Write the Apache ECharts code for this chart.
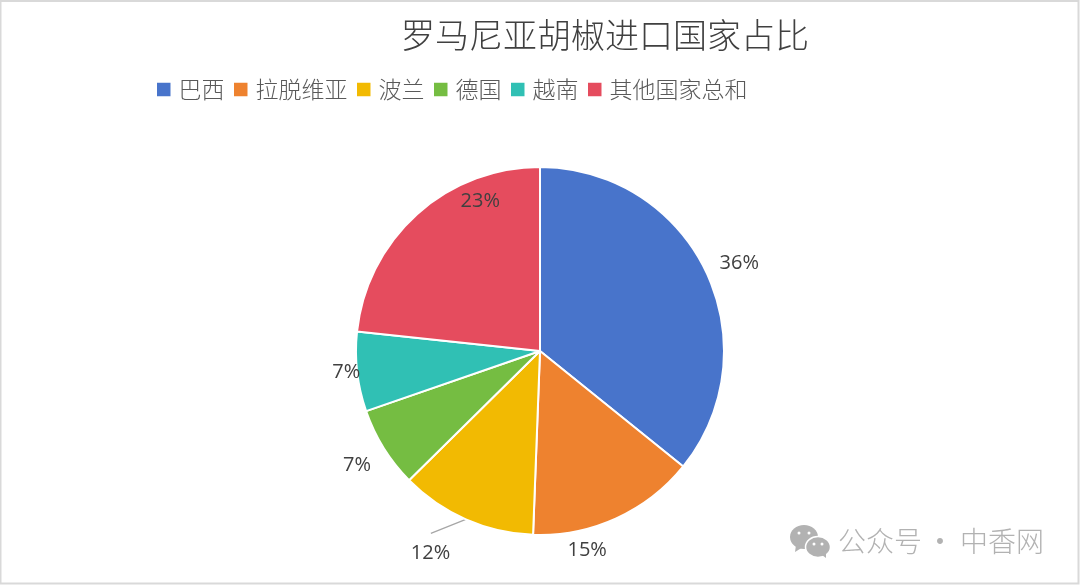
<!DOCTYPE html>
<html>
<head>
<meta charset="utf-8">
<style>
html,body{margin:0;padding:0;background:#fff}
#c{width:1080px;height:585px}
</style>
<script src="https://cdn.jsdelivr.net/npm/echarts@6/dist/echarts.min.js"></script>
</head>
<body>
<div id="c"></div>
<script>
const titleText = '罗马尼亚胡椒进口国家占比';
const categories = ['巴西','拉脱维亚','波兰','德国','越南','其他国家总和'];
const values = [35.8,14.8,12,7.1,7,23.3];
const shown = ['36%','15%','12%','7%','7%','23%'];
const colors = ['#4874CB','#EE822F','#F2BA02','#75BD42','#30C0B4','#E54C5E'];
const labelNudge = [[-35,-2],[-90,18],[1,30],[35,9],[53,-1],[128,-2]];
const leaderRun = [-35,14];
const cjk = '"Noto Sans CJK SC"';
const wm = '#B2B2B2';
const chart = echarts.init(document.getElementById('c'), null, {renderer:'canvas'});
chart.setOption({
  animation:false,
  backgroundColor:'#fff',
  title:{text:titleText,left:600,top:13,textAlign:'center',
    textStyle:{fontFamily:cjk,fontSize:34,fontWeight:300,color:'#404040'}},
  legend:{left:155,top:78,padding:0,itemWidth:15.5,itemHeight:15.5,itemGap:7.5,icon:'rect',
    textStyle:{fontFamily:cjk,fontSize:23,fontWeight:300,color:'#595959',padding:[0,0,0,2]},
    data:categories},
  series:[{
    type:'pie',
    center:[540,351],radius:184,startAngle:90,clockwise:true,
    itemStyle:{borderColor:'#fff',borderWidth:2},
    label:{show:true,position:'outside',fontFamily:'"Open Sans"',fontSize:20,color:'#404040',
      formatter:p=>shown[p.dataIndex]},
    labelLine:{show:false},
    labelLayout:p=>{
      const out={dx:labelNudge[p.dataIndex][0],dy:labelNudge[p.dataIndex][1]};
      if(p.dataIndex===2 && p.labelLinePoints){
        const s=p.labelLinePoints[0];
        const e=[s[0]+leaderRun[0],s[1]+leaderRun[1]];
        out.labelLinePoints=[s,e,e];
      }
      return out;
    },
    data:categories.map((n,i)=>({
      name:n,value:values[i],
      itemStyle:{color:colors[i]},
      labelLine:i===2?{show:true,length:4,length2:10,smooth:false,lineStyle:{color:'#A6A6A6',width:1.2}}:{show:false}
    }))
  }],
  graphic:[
    {type:'rect',shape:{x:0.5,y:1,width:1078,height:582.5},style:{fill:'none',stroke:'#D9D9D9',lineWidth:2},silent:true},
    {type:'ellipse',shape:{cx:804,cy:537,rx:14,ry:12},style:{fill:wm},silent:true},
    {type:'polygon',shape:{points:[[796,545],[795,552],[803,547]]},style:{fill:wm},silent:true},
    {type:'ellipse',shape:{cx:818,cy:547,rx:12.5,ry:10.5},style:{fill:wm,stroke:'#fff',lineWidth:1.5},silent:true},
    {type:'polygon',shape:{points:[[822,555],[826,558],[826,553]]},style:{fill:wm},silent:true},
    {type:'circle',shape:{cx:799,cy:533,r:1.5},style:{fill:'#fff'},silent:true},
    {type:'circle',shape:{cx:809,cy:533,r:1.5},style:{fill:'#fff'},silent:true},
    {type:'circle',shape:{cx:814,cy:544,r:1.5},style:{fill:'#fff'},silent:true},
    {type:'circle',shape:{cx:822,cy:544,r:1.5},style:{fill:'#fff'},silent:true},
    {type:'text',style:{x:838,y:527,text:'公众号',fontFamily:cjk,fontSize:28,fontWeight:300,fill:wm},silent:true},
    {type:'text',style:{x:940,y:527,text:'·',textAlign:'center',fontFamily:cjk,fontSize:28,fill:wm},silent:true},
    {type:'text',style:{x:960,y:527,text:'中香网',fontFamily:cjk,fontSize:28,fontWeight:300,fill:wm},silent:true}
  ]
});
</script>
</body>
</html>
